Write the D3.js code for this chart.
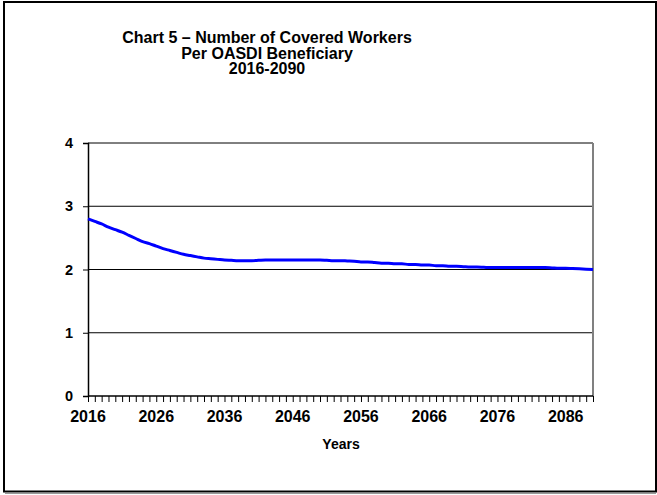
<!DOCTYPE html>
<html>
<head>
<meta charset="utf-8">
<script src="https://cdn.jsdelivr.net/npm/d3@7"></script>
<style>
  html, body { margin: 0; padding: 0; background: #fff; }
  svg { display: block; font-family: "Liberation Sans", Arial, sans-serif; }
</style>
</head>
<body>
<svg id="chart" width="657" height="495"></svg>
<script>
// ---- Data ----
const titleLines = ["Chart 5 \u2013 Number of Covered Workers", "Per OASDI Beneficiary", "2016-2090"];
const xAxisLabel = "Years";
const years = d3.range(2016, 2091);
const workersPerBeneficiary = [
  2.80, 2.76, 2.72, 2.67, 2.63, 2.59, 2.54, 2.49, 2.44, 2.41,
  2.37, 2.33, 2.30, 2.27, 2.24, 2.22, 2.20, 2.18, 2.17, 2.16,
  2.15, 2.145, 2.14, 2.14, 2.14, 2.145, 2.15, 2.15, 2.15, 2.15,
  2.15, 2.15, 2.15, 2.15, 2.15, 2.145, 2.14, 2.14, 2.135, 2.13,
  2.12, 2.12, 2.11, 2.10, 2.10, 2.09, 2.09, 2.08, 2.08, 2.07,
  2.07, 2.06, 2.06, 2.05, 2.05, 2.045, 2.04, 2.04, 2.035, 2.03,
  2.03, 2.03, 2.03, 2.03, 2.03, 2.03, 2.03, 2.03, 2.025, 2.02,
  2.02, 2.015, 2.01, 2.005, 2.00
];
const xTickLabels = [2016, 2026, 2036, 2046, 2056, 2066, 2076, 2086];
const yTicks = [0, 1, 2, 3, 4];

const data = years.map((y, i) => ({ year: y, value: workersPerBeneficiary[i] }));

// ---- Layout ----
const svg = d3.select("#chart");
const plot = { left: 88, right: 593, top: 143, bottom: 396 };

const x = d3.scaleLinear().domain([2016, 2090]).range([plot.left, plot.right]);
const y = d3.scaleLinear().domain([0, 4]).range([plot.bottom, plot.top]);

// Outer frame
svg.append("rect")
  .attr("x", 4).attr("y", 2)
  .attr("width", 652).attr("height", 489.5)
  .attr("fill", "none").attr("stroke", "#000").attr("stroke-width", 2);
svg.append("line")
  .attr("x1", 5).attr("x2", 656).attr("y1", 493.5).attr("y2", 493.5)
  .attr("stroke", "#999").attr("stroke-width", 1.2);

// Title
const title = svg.append("text")
  .attr("text-anchor", "middle")
  .attr("font-weight", "bold")
  .attr("font-size", 16)
  .attr("fill", "#000");
titleLines.forEach((t, i) => {
  title.append("tspan").attr("x", 267).attr("y", 43 + i * 15.7).text(t);
});

// Gridlines
svg.append("g")
  .selectAll("line")
  .data(yTicks.filter(d => d > 0))
  .join("line")
  .attr("x1", plot.left).attr("x2", plot.right)
  .attr("y1", d => y(d)).attr("y2", d => y(d))
  .attr("stroke", "#000").attr("stroke-width", 1);

// Right plot border (gray)
svg.append("line")
  .attr("x1", plot.right).attr("x2", plot.right)
  .attr("y1", plot.top).attr("y2", plot.bottom)
  .attr("stroke", "#808080").attr("stroke-width", 2);

// Y axis
const yAxis = d3.axisLeft(y).tickValues(yTicks).tickSize(5).tickPadding(10).tickFormat(d3.format("d"));
const gy = svg.append("g").attr("transform", `translate(${plot.left},0)`).call(yAxis);
gy.select(".domain").attr("stroke", "#000").attr("stroke-width", 1.5);
gy.selectAll(".tick line").attr("stroke", "#000");
gy.selectAll(".tick text")
  .attr("font-family", "Liberation Sans, Arial, sans-serif")
  .attr("font-weight", "bold").attr("font-size", 14.5).attr("fill", "#000");

// X axis: minor ticks every year
const xAxis = d3.axisBottom(x).tickValues(years).tickSize(6).tickFormat("");
const gx = svg.append("g").attr("transform", `translate(0,${plot.bottom})`).call(xAxis);
gx.select(".domain").attr("stroke", "#000").attr("stroke-width", 1.5).attr("d", `M${plot.left},0H${plot.right}`);
gx.selectAll(".tick line").attr("stroke", "#000");

// X tick labels
svg.append("g")
  .selectAll("text")
  .data(xTickLabels)
  .join("text")
  .attr("x", d => x(d))
  .attr("y", 422)
  .attr("text-anchor", "middle")
  .attr("font-weight", "bold").attr("font-size", 16)
  .attr("fill", "#000")
  .text(d => d);

// X axis title
svg.append("text")
  .attr("x", 341).attr("y", 449)
  .attr("text-anchor", "middle")
  .attr("font-weight", "bold").attr("font-size", 14)
  .attr("fill", "#000")
  .text(xAxisLabel);

// Line
const line = d3.line()
  .x(d => x(d.year))
  .y(d => y(d.value))
  .curve(d3.curveMonotoneX);

svg.append("path")
  .datum(data)
  .attr("d", line)
  .attr("fill", "none")
  .attr("stroke", "#0000FF")
  .attr("stroke-width", 3)
  .attr("stroke-linejoin", "round");
</script>
</body>
</html>
